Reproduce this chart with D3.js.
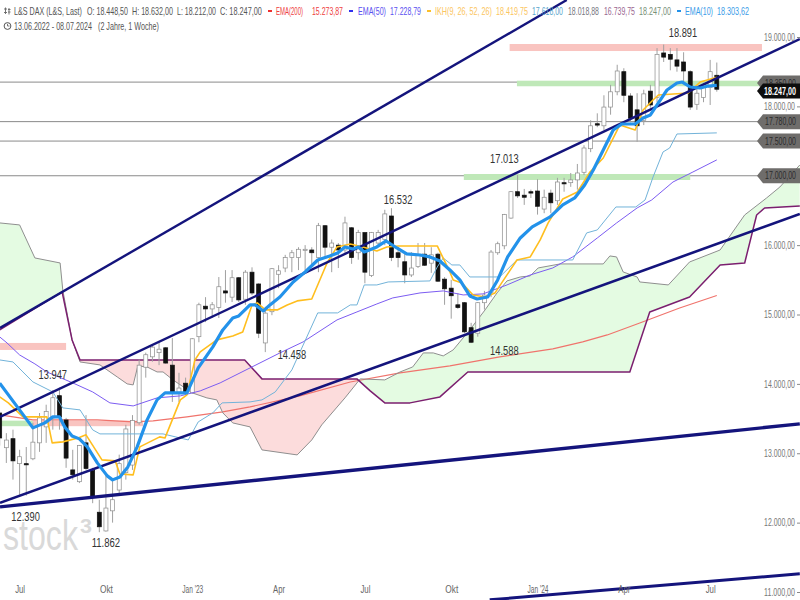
<!DOCTYPE html>
<html><head><meta charset="utf-8">
<style>html,body{margin:0;padding:0;background:#fff}svg{display:block}text{font-family:"Liberation Sans",Arial,sans-serif}</style>
<script src="https://cdn.jsdelivr.net/npm/d3@7/dist/d3.min.js"></script>
</head><body><svg id="c" width="800" height="600"></svg>
<script>
const highs=[13600,13290,13340,13050,13090,13440,13580,13700,13910,13947,13510,13050,13120,13550,12790,12330,12690,12620,12980,13410,13550,14350,14450,14560,14605,14530,14660,14160,14090,14660,15170,15250,15180,15540,15640,15640,15540,15640,15680,15450,15110,15670,15710,15860,15930,15970,16000,15970,16320,16290,16080,16030,16410,16260,16220,16190,16190,16220,16510,16532,15970,15890,15900,16030,16030,15970,15890,15540,15500,15310,15180,14880,15180,15340,15930,16050,16450,16780,17013,16810,16800,16950,16800,16800,16970,16970,17040,17170,17440,17800,17900,18160,18310,18600,18550,18190,18190,18240,18310,18840,18891,18840,18840,18780,18520,18270,18340,18670,18632];
const opens=[13580,13080,13210,12850,12850,12920,13150,13380,13510,13830,13480,12760,12590,13150,12750,12150,11880,12170,12470,12720,12830,13440,14240,14390,14450,14520,14270,13880,14010,13870,14680,15120,15080,15100,15340,15250,15530,15220,15610,15440,14590,15040,15580,15670,15820,15820,15930,15930,15820,16280,15970,16000,15930,16250,15890,16180,15560,16030,16080,16420,15890,15760,15570,15690,15870,15740,15870,15510,15380,15140,15170,14810,14730,15170,15320,15890,15990,16390,16770,16720,16770,16780,16520,16750,16640,16900,16900,16940,17050,17390,17750,17720,17990,18210,18500,18150,17950,17800,18220,18130,18770,18750,18670,18640,18500,18030,18130,18270,18448.5];
const closes=[13220,13190,12890,12950,12840,13160,13510,13600,13800,13520,12930,12690,13110,12780,12360,11940,12210,12330,12850,13350,13470,14270,14420,14530,14500,14300,13880,13940,13880,14650,15140,15080,15140,15400,15310,15530,15210,15610,15310,14730,15020,15660,15630,15820,15890,15940,15940,15890,16280,15970,16030,15930,16320,15820,16180,15610,16180,16180,16450,15820,15820,15570,15670,15860,15710,15860,15480,15370,15270,15100,14750,14600,15170,15280,15900,16020,16440,16770,16710,16690,16750,16560,16690,16610,16910,16890,16940,17040,17400,17720,17730,17990,18210,18510,18160,17830,17720,18180,18020,18750,18710,18680,18580,18510,17990,18190,18280,18500,18247];
const lows=[13110,12860,12620,12400,12390,12900,13020,13150,13340,13340,12790,12620,12570,12760,12280,11862,11870,12000,12400,12620,12760,13410,14090,14320,14270,14290,13740,13740,13870,13860,14600,14890,14950,14950,15170,15180,15180,15140,15280,14660,14458,14990,15380,15610,15610,15640,15640,15710,15610,15830,15610,15670,15890,15730,15790,15450,15540,16000,16000,15770,15680,15450,15540,15670,15700,15600,15470,15140,14940,15080,14730,14588,14680,15070,15250,15860,15940,16380,16680,16580,16680,16440,16460,16460,16580,16770,16840,16800,17010,17340,17700,17660,17880,18160,18060,17770,17490,17730,17980,18060,18640,18520,18500,18350,17950,17950,18060,18020,18212];

const ema10=[[0,14010],[5,13366],[6.8,13438],[8,13524],[9,13524],[9.8,13380],[10.9,13250],[12,13207],[13.2,13092],[14.7,12861],[16.2,12674],[17,12616],[18.1,12659],[19.3,12803],[20.7,13092],[22.2,13481],[23.7,13769],[24.9,13870],[28.2,13870],[29.9,14230],[32.1,14533],[33.6,14778],[35.1,14950],[36,14979],[37.7,15138],[38.5,15138],[39.7,15051],[40.7,15138],[42.2,15253],[44.2,15469],[46,15613],[47.9,15786],[49.7,15844],[50.9,15887],[52,15974],[53.2,15945],[54,15974],[54.9,15902],[56.8,15974],[58.2,16060],[59.8,15959],[61.3,15873],[63.3,15858],[64.8,15830],[66.3,15772],[67.8,15642],[69.3,15498],[70.8,15268],[71.9,15224],[73.5,15253],[75,15498],[76.5,15830],[78.4,16103],[80.2,16262],[82.9,16406],[84.8,16579],[86.6,16680],[88.1,16867],[89.4,17083],[90.9,17371],[92.4,17660],[93.7,17746],[95.7,17746],[96.9,17833],[98,17876],[99,18020],[100.5,18236],[102,18337],[102.8,18351],[104,18279],[105.5,18265],[106.7,18294],[108,18303.62]];
const tenkan=[[0,13812],[1.3,13726],[3.5,13524],[7.1,13524],[7.9,13149],[9.5,13164],[11.8,13221],[13,13265],[15.4,12904],[17.4,12890],[18.1,12702],[20.1,12688],[21.1,13092],[24.1,13236],[24.9,13221],[27.2,13769],[28.2,13841],[29.4,14345],[30.2,14461],[32.7,14634],[35.1,14691],[36.6,14749],[38,15138],[38.8,15167],[40,15066],[41.8,15066],[43.3,15138],[44.8,15196],[47,15224],[49.3,15743],[50.8,15974],[52.8,16017],[54.7,15974],[56.8,15916],[58.3,15974],[60,15988],[65.9,15988],[67.8,15613],[68.3,15498],[69.6,15455],[71.3,15282],[73.1,15253],[74.6,15311],[77.9,15786],[79.9,15830],[81.4,16075],[82.6,16320],[84.8,16665],[87,16766],[88.9,17054],[90.9,17256],[93.4,17732],[95.7,17660],[96.9,17948],[98.4,18092],[99.2,18164],[103.7,18193],[105.5,18351],[108,18419.75]];
const kijun=[[0,14345],[2,14316],[3.5,14172],[5,14028],[8,13884],[9.5,13654],[12.1,13625],[14,13337],[15.1,13279],[24.6,13279],[28.4,13192],[29.9,13452],[32.1,13582],[33.5,13726],[37.7,13740],[39.5,13769],[41.5,13884],[44,14201],[47.9,15023],[50.9,15023],[52.8,15138],[53.8,15138],[54.9,15426],[56.8,15426],[58.5,15469],[64.8,15484],[65.9,15685],[66.8,15815],[68.1,15714],[69.3,15714],[70.8,15541],[75.3,15541],[77.9,15786],[86.3,15786],[88.4,16176],[90,16219],[92.8,16550],[95.8,16550],[97.2,16651],[98.4,16982],[99.9,17343],[100.9,17400],[102,17602],[108,17618]];
const ema50=[[0,14677],[1.1,14590],[3,14417],[5.3,14288],[7.1,14172],[11,14014],[14,13884],[16.6,13726],[20.1,13682],[23.7,13798],[27.2,13827],[30.2,13899],[33.2,14014],[37.7,14230],[42.2,14446],[45.7,14605],[50.8,14922],[53.8,15037],[56.8,15152],[59.2,15239],[63.3,15311],[66.8,15340],[69.8,15282],[72.8,15297],[76.4,15426],[79.9,15570],[83.3,15671],[86.3,15830],[90,16103],[92.9,16319],[96,16536],[98.2,16651],[101.4,16910],[104.4,17054],[108,17228.79]];
const ema200=[[0,13553],[5,13481],[14.7,13481],[20.1,13452],[23.1,13466],[28.2,13524],[33.6,13596],[37.7,13668],[45.2,13827],[52.8,14028],[60.3,14158],[67.8,14259],[75.3,14389],[83.3,14504],[87.8,14605],[91.5,14706],[96.4,14878],[102.4,15095],[108,15273.87]];
const senkouA=[[0,16320],[3,16291],[5.3,15815],[9.1,15743],[9.5,15354],[10.9,14633],[12.1,14316],[15.1,14273],[17.7,14100],[19.2,14000],[20.1,13985],[20.8,14259],[22.2,14244],[23.7,14172],[24.6,14172],[26.1,14057],[29,13870],[31.2,13798],[32.7,13769],[33.6,13582],[35.1,13437],[37.7,13380],[39.5,13048],[44.8,12976],[47,13192],[48.5,13409],[52,13798],[54.3,14072],[58,14057],[60.3,14172],[62.2,14244],[63.8,14446],[65.3,14446],[66.8,14403],[68.3,14490],[70.8,14778],[73.1,15066],[74.9,15311],[76.4,15484],[78.4,15541],[79.9,15556],[81.1,15671],[84.4,15729],[90.9,15729],[91.9,15844],[92.9,15830],[93.9,15613],[96,15541],[96.4,15469],[100.7,15426],[103.9,15757],[108.5,15930],[112.2,16435],[115.5,16680],[117.5,16838],[120.5,17155]];
const senkouB=[[0,14778],[9.4,15325],[10.9,14633],[12.1,14345],[36.9,14345],[39.5,14072],[53.8,14072],[55.8,13899],[58,13726],[61.8,13726],[66.3,13812],[70.5,14172],[94.9,14172],[97.9,15037],[103.9,15253],[108.5,15714],[112.2,15743],[114,16435],[115.2,16536],[120.5,16565]];

const trendLines=[[[0.05,14806],[85.4,19533]],[[0.05,13524],[120.5,18971]],[[0.05,12285],[120.5,16449]],[[0.05,12227],[120.5,13423]],[[73.8,10887],[120.5,11262]]];
const trendWidths=[2.4,2.4,2.6,3.4,3];
const levels=[18350,17780,17500,17000];
const levelTexts=["18.350,00","17.780,00","17.500,00","17.000,00"];
const redZones=[[76.8,114.8,18899,18798],[0.05,10,14590,14489],[5,21.6,13470,13390]];
const greenZones=[[77.9,114.5,18370,18290],[69.9,104,17025,16939],[0.05,5,13470,13390]];
const yTicks=[19000,18000,16000,15000,14000,13000,12000,11000];
const xTicks=[3,16,29,42,55,68,81,94,107];
const xTickLabels=["Jul","Okt","Jan '23","Apr","Jul","Okt","Jan '24","Apr","Jul"];
const xTickWidths=[10,13,21,12,10,13,21,12,10];
const priceNotes=[["18.891",102.9,18891],["17.013",76,17013],["16.532",60,16532],["14.458",44,14458],["14.588",76,14588],["13.947",8,13947],["12.390",3.9,12390],["11.862",16,11862]];
const noteOffsets=[-8,-12,-4,7,12,-9,25,15];

const svg=d3.select("#c");
const x=d3.scaleLinear().domain([0,108]).range([-0.3,716.8]);
const y=d3.scaleLinear().domain([19000,11000]).range([37,592]);
const fmt=d3.formatLocale({decimal:",",thousands:".",grouping:[3],currency:["",""]}).format(",.2f");
const line=d3.line().x(d=>x(d[0])).y(d=>y(d[1]));

// Squeezes a text horizontally to the given width: the reference is a horizontally compressed screenshot
function squeeze(sel,widthOf){
 sel.each(function(d,i){
  const w=typeof widthOf==="function"?widthOf(d,i):widthOf;
  const t=d3.select(this),px=+t.attr("x")||0,n=this.getComputedTextLength();
  const py=+t.attr("y")||0;
  t.attr("x",0).attr("y",0).attr("transform",`translate(${px},${py}) scale(${w/n},1)`);
 });
}

// Ichimoku cloud
const defs=svg.append("defs");
const clipTop=y.range()[0]-200,clipBot=y.range()[1]+200;
defs.append("clipPath").attr("id","aboveB").append("path").attr("d",line(senkouB)+`L${x(120.5)},${clipTop}L${x(0)},${clipTop}Z`);
defs.append("clipPath").attr("id","belowB").append("path").attr("d",line(senkouB)+`L${x(120.5)},${clipBot}L${x(0)},${clipBot}Z`);
const poly=line(senkouA)+"L"+line(senkouB.slice().reverse()).slice(1)+"Z";
svg.append("path").attr("d",poly).attr("fill","#e4fbe2").attr("clip-path","url(#aboveB)");
svg.append("path").attr("d",poly).attr("fill","#fcdcdc").attr("clip-path","url(#belowB)");

// Horizontal levels and zones
svg.selectAll(".lvl").data(levels).join("line").attr("class","lvl").attr("x1",0).attr("x2",760).attr("y1",d=>y(d)).attr("y2",d=>y(d)).attr("stroke","#8a8a8a").attr("stroke-width",1);
const zone=(data,col)=>svg.append("g").selectAll("rect").data(data).join("rect")
 .attr("x",d=>x(d[0])).attr("width",d=>x(d[1])-x(d[0])).attr("y",d=>y(d[2])).attr("height",d=>y(d[3])-y(d[2])).attr("fill",col);
zone(redZones,"#f9c4c0");zone(greenZones,"#bfe8b8");

// Thin indicator lines below candles
const path=(d,c,w)=>svg.append("path").attr("d",line(d)).attr("fill","none").attr("stroke",c).attr("stroke-width",w).attr("stroke-linejoin","round");
path(ema200,"#f0736c",1.1);
path(senkouA,"#8f8f8f",1);
path(senkouB,"#7b1f6f",1.5);

// Candles
const idx=d3.range(highs.length);
const cg=svg.append("g");
cg.selectAll("line").data(idx).join("line").attr("x1",i=>x(i)).attr("x2",i=>x(i)).attr("y1",i=>y(highs[i])).attr("y2",i=>y(lows[i])).attr("stroke","#a0a0a0").attr("stroke-width",1);
cg.selectAll("rect").data(idx).join("rect").attr("x",i=>x(i)-2).attr("width",4)
 .attr("y",i=>y(Math.max(opens[i],closes[i]))).attr("height",i=>Math.max(1.2,Math.abs(y(opens[i])-y(closes[i]))))
 .attr("fill",i=>closes[i]>=opens[i]?"#fff":"#111").attr("stroke",i=>closes[i]>=opens[i]?"#8c8c8c":"#111").attr("stroke-width",.7);

path(ema50,"#7c5cf2",1);
path(kijun,"#72b3d9",1);
path(tenkan,"#ffbe1e",1.6);
trendLines.forEach((t,i)=>path(t,"#14147c",trendWidths[i]));
path(ema10,"#2392ea",3.2);

// Axes
const yAxis=d3.axisLeft(y).tickValues(yTicks).tickFormat(fmt).tickSize(3).tickPadding(2);
const ya=svg.append("g").attr("transform","translate(800,0)").call(yAxis);
ya.select(".domain").remove();
ya.selectAll("line").attr("stroke","#888");
squeeze(ya.selectAll("text").attr("fill","#777").attr("font-size",10),31);
const xAxis=d3.axisBottom(x).tickValues(xTicks).tickFormat((d,i)=>xTickLabels[i]).tickSize(0).tickPadding(0);
const xa=svg.append("g").attr("transform","translate(0,586)").call(xAxis);
xa.select(".domain").remove();
squeeze(xa.selectAll("text").attr("fill","#666").attr("font-size",10),(d,i)=>xTickWidths[i]);

// Level tags
const tag=(py)=>{const h=7.5;return `M757,${py}L763,${py-h}H800V${py+h}H763Z`;};
levels.forEach((l,i)=>{const py=y(l)+(i==0?1:0);
 svg.append("path").attr("d",tag(py)).attr("fill","#6f6d6b");
 squeeze(svg.append("text").attr("x",796).attr("y",py+3.5).attr("text-anchor","end").attr("font-size",10).attr("fill","#2b2b2b").text(levelTexts[i]),31);
});
svg.append("path").attr("d",tag(91)).attr("fill","#0d0d0d");
squeeze(svg.append("text").attr("x",796).attr("y",94.5).attr("text-anchor","end").attr("font-size",10).attr("font-weight","bold").attr("fill","#fff").text(fmt(closes[108])),32);

// Price notes
squeeze(svg.append("g").selectAll("text").data(priceNotes).join("text").attr("x",d=>x(d[1])).attr("y",(d,i)=>y(d[2])+noteOffsets[i]).attr("text-anchor","middle").attr("font-size",13.5).attr("fill","#333").text(d=>d[0]),28.5);

// Watermark
squeeze(svg.append("text").attr("x",3).attr("y",550).attr("font-size",43).attr("font-family","Noto Sans").attr("fill","#d9d9d9").text("stock"),75);
squeeze(svg.append("text").attr("x",80).attr("y",533).attr("font-size",21).attr("font-family","Noto Sans").attr("font-weight","bold").attr("fill","#d9d9d9").text("3"),12);

// Header
const head=[["L&S DAX (L&S, Last)",14,68,"#555",11],["O: 18.448,50",87,41,"#555",11],["H: 18.632,00",132,41,"#555",11],["L: 18.212,00",177,39,"#555",11],["C: 18.247,00",220,42,"#555",11],
["EMA(200)",276,27,"#ee4040",11],["15.273,87",312,31,"#ee4040",11],["EMA(50)",358,28,"#5a50f0",11],["17.228,79",390,31,"#5a50f0",11],["IKH(9, 26, 52, 26)",435,57,"#fbc560",11],["18.419,75",496,32,"#fbc560",11],["17.618,00",532,31,"#5aa5cc",11],["18.018,88",568,31,"#77777f",11],["16.739,75",604,31,"#99668f",11],["18.247,00",639,32,"#779077",11],["EMA(10)",685,28,"#3a9be8",11],["18.303,62",717,32,"#3a9be8",11],
["13.06.2022 - 08.07.2024",14,78,"#555",26],["(2 Jahre, 1 Woche)",98,61,"#555",26]];
squeeze(svg.append("g").selectAll("text").data(head).join("text").attr("x",d=>d[1]).attr("y",d=>d[4]+3.5).attr("font-size",10).attr("fill",d=>d[3]).text(d=>d[0]),d=>d[2]);
const dashes=[[268,"#ee3030"],[349,"#3030ee"],[427,"#fbbf2a"],[677,"#2392ea"]];
svg.append("g").selectAll("rect").data(dashes).join("rect").attr("x",d=>d[0]).attr("y",10).attr("width",4).attr("height",2).attr("fill",d=>d[1]);
// icons
svg.append("circle").attr("cx",7.5).attr("cy",26).attr("r",3.4).attr("fill","none").attr("stroke","#555");
svg.append("path").attr("d","M7.5,23.8V26H9.5").attr("fill","none").attr("stroke","#555").attr("stroke-width",.8);
svg.append("path").attr("d","M5.5,7.5V14M4,9H7M4,12.5H7M9,8V14.5M8,9.5H10.5M8,12H10.5").attr("fill","none").attr("stroke","#666").attr("stroke-width",.9);
</script></body></html>
